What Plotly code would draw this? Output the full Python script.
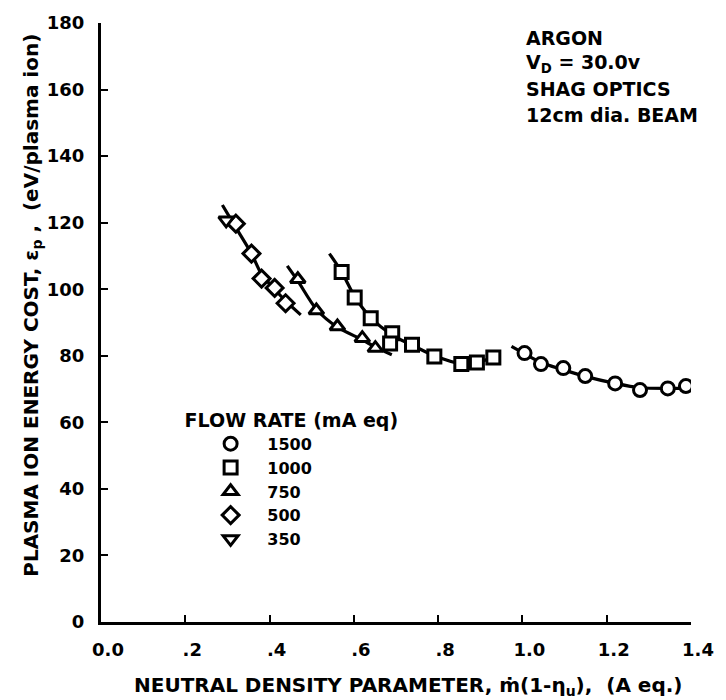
import plotly.graph_objects as go

# Flow rate groups (mA eq)
flow_labels = ["1500", "1000", "750", "500", "350"]
symbols = ["circle", "square", "triangle-up", "diamond", "triangle-down"]

# Measured points: neutral density parameter (A eq.) vs ion energy cost (eV/ion)
x_1500 = [1.005, 1.044, 1.097, 1.149, 1.220, 1.279, 1.345, 1.388]
y_1500 = [80.8, 77.5, 76.3, 73.9, 71.7, 69.7, 70.2, 70.9]

x_1000 = [0.571, 0.602, 0.640, 0.691, 0.686, 0.738, 0.791, 0.855, 0.892, 0.931]
y_1000 = [105.2, 97.5, 91.3, 86.8, 83.7, 83.3, 79.8, 77.5, 78.0, 79.5]

x_750 = [0.467, 0.511, 0.561, 0.620, 0.651]
y_750 = [103.0, 93.6, 88.8, 85.3, 82.3]

x_500 = [0.320, 0.357, 0.381, 0.412, 0.438]
y_500 = [119.7, 110.7, 103.2, 100.4, 95.8]

x_350 = [0.297]
y_350 = [120.7]

# Faired curves drawn through each data group
cx_1500 = [0.974, 1.005, 1.044, 1.097, 1.149, 1.220, 1.279, 1.345, 1.400]
cy_1500 = [82.8, 80.6, 78.0, 75.8, 73.8, 71.7, 70.4, 70.2, 70.3]

cx_1000 = [0.542, 0.571, 0.602, 0.640, 0.690, 0.738, 0.791, 0.855, 0.892, 0.931]
cy_1000 = [110.7, 105.2, 97.8, 91.5, 86.3, 83.2, 80.0, 77.6, 78.0, 79.5]

cx_750 = [0.442, 0.467, 0.511, 0.561, 0.620, 0.651, 0.690]
cy_750 = [107.0, 102.5, 94.0, 88.6, 84.8, 82.6, 80.3]

cx_500 = [0.288, 0.320, 0.357, 0.381, 0.412, 0.438, 0.474]
cy_500 = [125.3, 118.5, 110.7, 104.5, 100.0, 96.5, 92.3]

x_ticks = [0.0, 0.2, 0.4, 0.6, 0.8, 1.0, 1.2, 1.4]
x_tick_text = ["0.0", ".2", ".4", ".6", ".8", "1.0", "1.2", "1.4"]
y_ticks = [0, 20, 40, 60, 80, 100, 120, 140, 160, 180]

notes = ["ARGON", "V<sub>D</sub> = 30.0v", "SHAG OPTICS", "12cm dia. BEAM"]

FONT = "DejaVu Sans"
INK = "black"
TXT = 19

fig = go.Figure()

for cx, cy in [(cx_1500, cy_1500), (cx_1000, cy_1000), (cx_750, cy_750), (cx_500, cy_500)]:
    fig.add_trace(go.Scatter(
        x=cx, y=cy, mode="lines", showlegend=False, hoverinfo="skip",
        line=dict(color=INK, width=3.2, shape="spline", smoothing=0.8),
    ))

series = [(x_1500, y_1500), (x_1000, y_1000), (x_750, y_750), (x_500, y_500), (x_350, y_350)]
for (xs, ys), lab, sym in zip(series, flow_labels, symbols):
    fig.add_trace(go.Scatter(
        x=xs, y=ys, mode="markers", name="\u00a0\u00a0\u00a0" + lab,
        marker=dict(symbol=sym, size=13, color="white",
                    line=dict(color=INK, width=3)),
    ))

axis_font = dict(family=FONT, size=18, color=INK, weight="bold")

fig.update_xaxes(
    range=[0, 1.4], tickvals=x_ticks, ticktext=x_tick_text,
    ticks="inside", ticklen=7, tickwidth=2, tickcolor=INK,
    showline=True, linewidth=3, linecolor=INK,
    showgrid=False, zeroline=False, tickfont=axis_font,
    ticklabelstandoff=9, ticklabelshift=7,
)
fig.update_yaxes(
    range=[0, 180], tickvals=y_ticks,
    ticks="inside", ticklen=7, tickwidth=2, tickcolor=INK,
    showline=True, linewidth=3, linecolor=INK,
    showgrid=False, zeroline=False, tickfont=axis_font,
    ticklabelstandoff=10,
)

annotations = []
# axis titles
annotations.append(dict(
    text="NEUTRAL DENSITY PARAMETER, \u1e41(1-\u03b7<sub>u</sub>),  (A eq.)",
    xref="paper", yref="paper", x=(413 - 101) / 600, y=(622 - 686) / 602,
    xanchor="center", yanchor="middle", showarrow=False,
    font=dict(family=FONT, size=20, color=INK, weight="bold"),
))
annotations.append(dict(
    text="PLASMA ION ENERGY COST, \u03b5<sub>p</sub> ,  (eV/plasma ion)",
    xref="paper", yref="paper", x=(30 - 101) / 600, y=(622 - 304) / 602,
    xanchor="center", yanchor="middle", textangle=-90, showarrow=False,
    font=dict(family=FONT, size=20, color=INK, weight="bold"),
))
# condition notes, top right
for i, line in enumerate(notes):
    annotations.append(dict(
        text=line, xref="paper", yref="paper",
        x=(531 - 101) / 600, y=(622 - (35 + 25.7 * i)) / 602,
        xanchor="left", yanchor="middle", showarrow=False,
        font=dict(family=FONT, size=TXT, color=INK, weight="bold"),
    ))

fig.update_layout(
    width=726, height=700,
    margin=dict(l=101, r=25, t=20, b=78),
    paper_bgcolor="white", plot_bgcolor="white",
    annotations=annotations,
    legend=dict(
        title=dict(text="FLOW RATE (mA eq)",
                   font=dict(family=FONT, size=TXT, color=INK, weight="bold")),
        font=dict(family=FONT, size=16, color=INK, weight="bold"),
        x=(184 - 101) / 600, y=(622 - 401) / 602,
        xanchor="left", yanchor="top",
        bgcolor="rgba(0,0,0,0)", indentation=28,
        tracegroupgap=0,
    ),
)

fig.write_html("out.html")
